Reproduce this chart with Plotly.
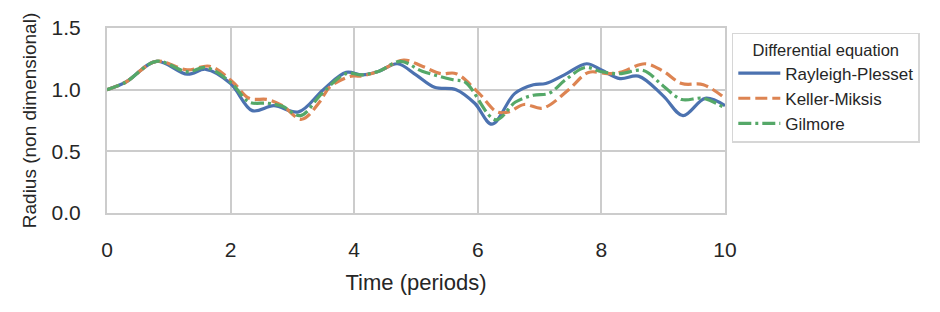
import plotly.graph_objects as go

# ---- data ----
t_rp = [0, 0.3, 0.8, 1.3, 1.6, 2.0, 2.35, 2.7, 3.1, 3.5, 3.87, 4.13, 4.4, 4.7, 5.0, 5.3, 5.65,
        5.95, 6.23, 6.6, 6.9, 7.1, 7.4, 7.76, 8.0, 8.3, 8.6, 9.0, 9.32, 9.68, 10]
r_rp = [1.0, 1.06, 1.23, 1.125, 1.165, 1.05, 0.83, 0.87, 0.82, 1.0, 1.14, 1.12, 1.15, 1.21, 1.12,
        1.02, 1.00, 0.89, 0.72, 0.97, 1.04, 1.05, 1.12, 1.21, 1.16, 1.09, 1.11, 0.95, 0.79, 0.93, 0.87]

t_km = [0, 0.3, 0.8, 1.3, 1.66, 2.03, 2.3, 2.6, 2.84, 3.15, 3.44, 3.6, 3.95, 4.1, 4.4, 4.8, 5.1,
        5.4, 5.65, 6.02, 6.31, 6.5, 6.75, 7.05, 7.47, 7.79, 8.1, 8.3, 8.71, 9.0, 9.3, 9.65, 10]
r_km = [1.0, 1.06, 1.23, 1.16, 1.19, 1.065, 0.93, 0.92, 0.87, 0.76, 0.90, 1.02, 1.11, 1.11, 1.15,
        1.24, 1.19, 1.13, 1.13, 0.97, 0.82, 0.82, 0.88, 0.85, 1.0, 1.14, 1.13, 1.14, 1.21, 1.15,
        1.05, 1.04, 0.93]

t_gi = [0, 0.3, 0.8, 1.3, 1.6, 2.0, 2.3, 2.6, 2.84, 3.13, 3.48, 3.87, 4.13, 4.4, 4.75, 5.1, 5.6,
        5.8, 6.29, 6.61, 6.9, 7.15, 7.42, 7.74, 8.0, 8.3, 8.68, 9.0, 9.3, 9.65, 10]
r_gi = [1.0, 1.06, 1.23, 1.145, 1.18, 1.06, 0.90, 0.89, 0.865, 0.79, 0.97, 1.13, 1.12, 1.15, 1.23,
        1.15, 1.08, 1.06, 0.755, 0.90, 0.955, 0.97, 1.08, 1.18, 1.145, 1.13, 1.155, 1.03, 0.92,
        0.93, 0.85]

series_names = ["Rayleigh-Plesset", "Keller-Miksis", "Gilmore"]
x_ticks = [0, 2, 4, 6, 8, 10]
y_ticks = [0.0, 0.5, 1.0, 1.5]

colors = ["#4c72b0", "#dd8452", "#55a868"]
dashes = ["solid", "12px,5px", "13px,4px,3px,4px"]

fig = go.Figure()
for i, (t, r) in enumerate([(t_rp, r_rp), (t_km, r_km), (t_gi, r_gi)]):
    fig.add_trace(go.Scatter(
        x=t, y=r, mode="lines", name=series_names[i], legendgroup=series_names[i],
        line=dict(color=colors[i], width=3.2, dash=dashes[i], shape="spline", smoothing=1.0),
    ))

font_family = "Liberation Sans, Arial, sans-serif"
grid = "#cccccc"

# the page body adds an 8px offset, so the figure is 16px smaller than the window
fig.update_layout(
    width=924, height=296,
    margin=dict(l=99, r=205, t=20, b=91),
    paper_bgcolor="white", plot_bgcolor="white",
    font=dict(family=font_family, color="#262626"),
    showlegend=True,
    legend=dict(
        x=1.011, y=0.975, xanchor="left", yanchor="top",
        bgcolor="white", bordercolor="#d6d6d6", borderwidth=1.5,
        font=dict(size=17, color="#262626"),
        title=dict(text="Differential equation", font=dict(size=16.5), side="top center"),
        tracegroupgap=0, itemwidth=42,
    ),
    xaxis=dict(
        range=[0, 10], tickvals=x_ticks, ticktext=[str(v) for v in x_ticks],
        showgrid=True, gridcolor=grid, gridwidth=2, zeroline=False,
        showline=True, mirror=True, linecolor=grid, linewidth=2,
        ticks="", ticklabelstandoff=17, tickfont=dict(size=21),
        automargin=False,
        title=dict(text="Time (periods)", font=dict(size=22), standoff=14),
    ),
    yaxis=dict(
        range=[0, 1.5], tickvals=y_ticks, ticktext=[f"{v:.1f}" for v in y_ticks],
        showgrid=True, gridcolor=grid, gridwidth=2, zeroline=False,
        showline=True, mirror=True, linecolor=grid, linewidth=2,
        ticks="", ticklabelstandoff=20, tickfont=dict(size=21),
        automargin=False,
        title=dict(text="Radius (non dimensional)", font=dict(size=19), standoff=10),
    ),
)

fig.write_html("out.html")
